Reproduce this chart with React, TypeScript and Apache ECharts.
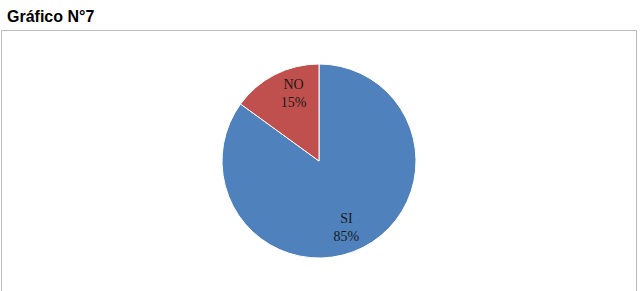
import React, { useEffect, useRef } from "react";
import * as echarts from "echarts";

const categories = ["SI", "NO"];
const values = [85, 15];
const colors = ["#4F81BD", "#C0504D"];
const labelOffsets: number[][] = [[4, 21], [-2, -22]];

export default function App() {
  const ref = useRef<HTMLDivElement>(null);
  useEffect(() => {
    document.body.style.margin = "0";
    const chart = echarts.init(ref.current!, undefined, { renderer: "svg" });
    chart.setOption({
      animation: false,
      backgroundColor: "#ffffff",
      title: {
        text: "Gráfico N°7",
        left: 2,
        top: 3,
        textStyle: {
          fontFamily: "Liberation Sans, Arial, sans-serif",
          fontSize: 16,
          fontWeight: "bold",
          color: "#000000",
        },
      },
      graphic: [
        {
          type: "rect",
          shape: { x: 1.5, y: 30.5, width: 635, height: 300 },
          style: { fill: "none", stroke: "#BDBDBD", lineWidth: 1 },
          silent: true,
        },
      ],
      series: [
        {
          type: "pie",
          center: [319, 161],
          radius: 97,
          startAngle: 90,
          clockwise: true,
          data: categories.map((c, i) => ({
            name: c,
            value: values[i],
            itemStyle: { color: colors[i] },
            label: { offset: labelOffsets[i] },
          })),
          itemStyle: { borderColor: "#ffffff", borderWidth: 1 },
          label: {
            show: true,
            position: "inside",
            formatter: "{b}\n{d}%",
            fontFamily: "Liberation Serif, DejaVu Serif, serif",
            fontSize: 14,
            lineHeight: 18,
            color: "#1a1a1a",
          },
          labelLine: { show: false },
          emphasis: { disabled: true },
        },
      ],
    });
    return () => chart.dispose();
  }, []);
  return (
    <div
      ref={ref}
      style={{ position: "absolute", left: 0, top: 0, width: 643, height: 291 }}
    />
  );
}
